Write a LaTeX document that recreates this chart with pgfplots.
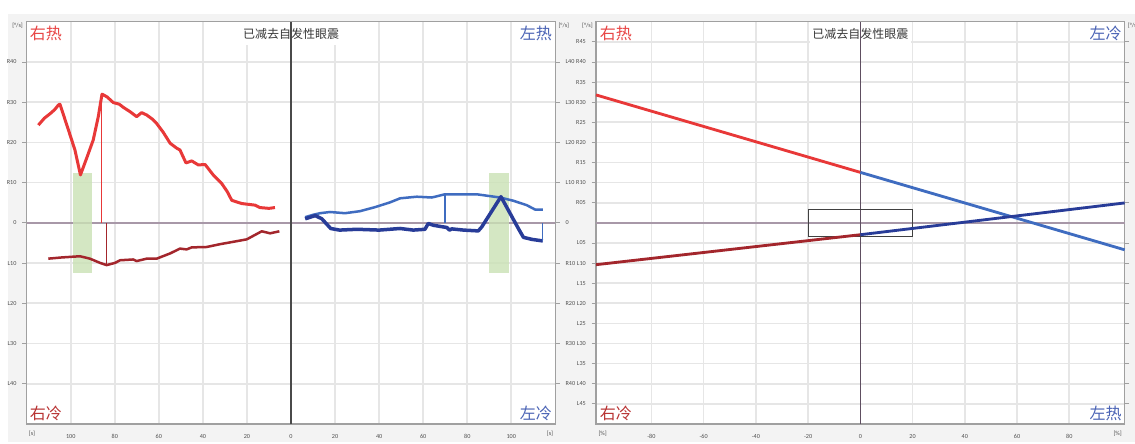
\documentclass[border=0pt]{standalone}
\usepackage{pgfplots}
\pgfplotsset{compat=1.18}
\usepackage{fontspec}
\setmainfont{Carlito}
\newfontfamily\cjk{Noto Sans CJK SC}
\definecolor{bggray}{HTML}{F3F3F3}
\definecolor{gridc}{HTML}{E6E6E6}
\definecolor{axc}{HTML}{A0A0A0}
\definecolor{tickc}{HTML}{505050}
\definecolor{zeroh}{HTML}{A898A8}
\definecolor{zerov}{HTML}{4A4A4A}
\definecolor{zerovb}{HTML}{5E4E60}
\definecolor{cred}{HTML}{E83838}
\definecolor{cdred}{HTML}{A3262C}
\definecolor{cblue}{HTML}{3F6CC0}
\definecolor{cdblue}{HTML}{283C98}
\definecolor{cgreen}{HTML}{CAE2B5}
\definecolor{lblred}{HTML}{E84545}
\definecolor{lbldred}{HTML}{B83232}
\definecolor{lblblue}{HTML}{4A63B5}
\definecolor{titlec}{HTML}{383838}
\tikzset{
  cornerfont/.style={font=\cjk\fontsize{9.6}{10}\selectfont},
  titlefont/.style={font=\cjk\fontsize{7.2}{8}\selectfont, text=titlec, fill=white, inner xsep=1.5pt, inner ysep=3.5pt},
  unitfont/.style={font=\fontsize{3.7}{4.4}\selectfont, text=tickc},
}
\pgfplotsset{
  panel/.style={
    anchor=south west, scale only axis,
    width=317.2pt, height=241.38pt,
    ymin=-50, ymax=50,
    axis background/.style={fill=white},
    grid=major,
    major grid style={draw=gridc, line width=1.0pt},
    axis line style={draw=axc, line width=0.7pt},
    xtick style={draw=none},
    ytick style={draw=axc, line width=0.5pt},
    tick align=outside, major tick length=2.6pt,
    ytick pos=left,
    tick label style={font=\fontsize{3.7}{4.4}\selectfont, text=tickc},
    xticklabel style={yshift=-0.3pt},
    clip=false,
  },
  labelaxis/.style={
    anchor=south west, scale only axis,
    width=317.2pt, height=241.38pt, ymin=-50, ymax=50,
    axis x line=none, axis y line*=right,
    axis line style={draw=none},
    ytick style={draw=axc, line width=0.5pt},
    tick align=outside, major tick length=2.6pt,
    tick label style={font=\fontsize{3.7}{4.4}\selectfont, text=tickc},
  },
}
\begin{document}
\begin{tikzpicture}
\fill[white] (0,0) rectangle (681pt,265.8pt);
\fill[bggray] (4.8pt,0.6pt) rectangle (681pt,257.4pt);

% ---------------- left panel ----------------
\begin{axis}[panel, at={(16.02pt,11.4pt)},
  xmin=-120, xmax=120,
  xtick={-100,-80,-60,-40,-20,0,20,40,60,80,100},
  xticklabels={100,80,60,40,20,0,20,40,60,80,100},
  ytick={-40,-30,-20,-10,0,10,20,30,40},
  yticklabels={L40,L30,L20,L10,0,R10,R20,R30,R40}]
\node[titlefont, yshift=-7.1pt] at (axis cs:0,50) {已减去自发性眼震};
\addplot[draw=zeroh, line width=1.2pt] coordinates {(-120,0) (120,0)};
\addplot[draw=zerov, line width=0.8pt] coordinates {(0,-50) (0,50)};
\addplot[draw=none, fill=cgreen, fill opacity=0.8] coordinates {(-99.1,-12.4) (-90.5,-12.4) (-90.5,12.4) (-99.1,12.4)} --cycle;
\addplot[draw=none, fill=cgreen, fill opacity=0.8] coordinates {(90,-12.4) (99,-12.4) (99,12.4) (90,12.4)} --cycle;
% right ear warm (red)
\addplot[cred, line width=1.8pt, line join=round] coordinates {
(-114.7,24.3) (-112,26) (-109,27.3) (-107.2,28.2) (-105.6,29.3) (-104.9,29.5)
(-101,23) (-98.1,18.1) (-95.6,11.9) (-92.5,16.5) (-89.8,20.6) (-87.5,26.4)
(-85.8,32.0) (-83.5,31.3) (-80.7,29.9) (-78,29.5) (-76.1,28.7) (-73,27.6)
(-70.1,26.4) (-67.8,27.4) (-65.5,26.8) (-63,25.8) (-61,24.7) (-58,22.5)
(-54.9,19.8) (-52,18.6) (-50.4,18.1) (-47.7,14.9) (-45.1,15.4) (-42.1,14.4)
(-39,14.5) (-35.3,11.9) (-31.5,9.8) (-29,7.8) (-26.9,5.6) (-22.4,4.8)
(-16.3,4.4) (-14.1,3.8) (-10,3.6) (-7.3,3.8)};
\addplot[cred, line width=0.7pt] coordinates {(-85.9,0) (-85.9,31.8)};
% right ear cold (dark red)
\addplot[cdred, line width=1.5pt, line join=round] coordinates {
(-110.2,-8.9) (-104.1,-8.6) (-95.8,-8.3) (-91.3,-8.9) (-86.7,-9.95) (-83.7,-10.5)
(-79.9,-9.95) (-77.6,-9.3) (-71.6,-9.1) (-70.1,-9.5) (-65.5,-8.9) (-61,-8.9)
(-54.9,-7.6) (-50.4,-6.4) (-47.4,-6.6) (-45.1,-6.1) (-38.3,-6.0) (-32.2,-5.3)
(-26.1,-4.7) (-20.1,-4.1) (-13.3,-2.1) (-9.5,-2.6) (-5.3,-2.1)};
\addplot[cdred, line width=0.7pt] coordinates {(-83.7,0) (-83.7,-10.5)};
% left ear warm (blue)
\addplot[cblue, line width=1.5pt, line join=round] coordinates {
(6.4,1.4) (10,2.0) (13.2,2.4) (17.7,2.7) (24.5,2.4) (31.3,2.9) (38.1,3.9)
(45,5.1) (49.5,6.1) (57.1,6.5) (63.9,6.3) (69.9,7.1) (76.7,7.1) (84.3,7.1)
(94.9,6.3) (100.9,5.5) (107,4.4) (110.8,3.3) (114.3,3.3)};
\addplot[cblue, line width=0.7pt] coordinates {(69.9,0) (69.9,7.1)};
% left ear cold (dark blue)
\addplot[cdblue, line width=2.1pt, line join=round] coordinates {
(6.4,1.0) (11,1.8) (14,1.0) (18,-1.4) (22,-1.8) (30,-1.6) (40,-1.8) (49.5,-1.4)
(55.5,-1.8) (60.8,-1.6) (62.3,-0.15) (64.6,-0.6) (70.7,-1.15) (71.9,-1.8)
(73,-1.5) (78.3,-1.8) (85,-2.0) (86.6,-1.0) (95.3,6.5) (103.2,-1.4)
(105.5,-3.6) (109.3,-4.1) (114.3,-4.5)};
\addplot[cblue, line width=0.7pt] coordinates {(114.3,-4.5) (114.3,0)};
\node[cornerfont, text=lblred, xshift=11.5pt, yshift=-7.1pt] at (rel axis cs:0,1) {右热};
\node[cornerfont, text=lblblue, xshift=-11.7pt, yshift=-7.1pt] at (rel axis cs:1,1) {左热};
\node[cornerfont, text=lbldred, xshift=11.5pt, yshift=6.6pt] at (rel axis cs:0,0) {右冷};
\node[cornerfont, text=lblblue, xshift=-11.7pt, yshift=6.6pt] at (rel axis cs:1,0) {左冷};
\node[unitfont, xshift=-5.5pt, yshift=-2.6pt] at (rel axis cs:0,1) {[°/s]};
\node[unitfont, xshift=5.1pt, yshift=-2.6pt] at (rel axis cs:1,1) {[°/s]};
\node[unitfont, xshift=3.2pt, yshift=-5.6pt] at (rel axis cs:0,0) {[s]};
\node[unitfont, xshift=-3.2pt, yshift=-5.6pt] at (rel axis cs:1,0) {[s]};
\end{axis}
\begin{axis}[labelaxis, at={(16.02pt,11.4pt)},
  xmin=-120, xmax=120,
  ytick={-40,-30,-20,-10,0,10,20,30,40},
  yticklabels={R40,R30,R20,R10,0,L10,L20,L30,L40}]
\addplot[draw=none] coordinates {(0,0)};
\end{axis}

% ---------------- right panel ----------------
\begin{axis}[panel, at={(357.6pt,11.4pt)},
  xmin=-101.2, xmax=101.2,
  xtick={-80,-60,-40,-20,0,20,40,60,80},
  xticklabels={-80,-60,-40,-20,0,20,40,60,80},
  ytick={-45,-40,-35,-30,-25,-20,-15,-10,-5,5,10,15,20,25,30,35,40,45},
  yticklabels={L45,L40,L35,L30,L25,L20,L15,L10,L05,R05,R10,R15,R20,R25,R30,R35,R40,R45}]
\node[titlefont, yshift=-7.1pt] at (axis cs:0,50) {已减去自发性眼震};
\addplot[draw=zeroh, line width=1.2pt] coordinates {(-101.2,0) (101.2,0)};
\addplot[draw=zerovb, line width=0.8pt] coordinates {(0,-50) (0,50)};
\addplot[draw=black!75, line width=0.5pt] coordinates {(-20,-3.4) (20,-3.4) (20,3.3) (-20,3.3) (-20,-3.4)};
\addplot[cred, line width=1.7pt] coordinates {(-101.2,31.8) (0,12.55)};
\addplot[cblue, line width=1.7pt] coordinates {(0,12.55) (101.2,-6.7)};
\addplot[cdred, line width=1.7pt] coordinates {(-101.2,-10.4) (0,-2.95)};
\addplot[cdblue, line width=1.7pt] coordinates {(0,-2.95) (101.2,4.95)};
\node[cornerfont, text=lblred, xshift=11.9pt, yshift=-7.1pt] at (rel axis cs:0,1) {右热};
\node[cornerfont, text=lblblue, xshift=-11.5pt, yshift=-7.1pt] at (rel axis cs:1,1) {左冷};
\node[cornerfont, text=lbldred, xshift=11.9pt, yshift=6.6pt] at (rel axis cs:0,0) {右冷};
\node[cornerfont, text=lblblue, xshift=-11.5pt, yshift=6.6pt] at (rel axis cs:1,0) {左热};
\node[unitfont, xshift=-5.1pt, yshift=-2.6pt] at (rel axis cs:0,1) {[°/s]};
\node[unitfont, xshift=5.1pt, yshift=-2.6pt] at (rel axis cs:1,1) {[°/s]};
\node[unitfont, xshift=4.0pt, yshift=-5.6pt] at (rel axis cs:0,0) {[\%]};
\node[unitfont, xshift=-4.2pt, yshift=-5.6pt] at (rel axis cs:1,0) {[\%]};
\end{axis}
\begin{axis}[labelaxis, at={(357.6pt,11.4pt)},
  xmin=-101.2, xmax=101.2,
  ytick={-45,-40,-35,-30,-25,-20,-15,-10,-5,5,10,15,20,25,30,35,40,45},
  yticklabels={L45,L40,L35,L30,L25,L20,L15,L10,L05,R05,R10,R15,R20,R25,R30,R35,R40,R45}]
\addplot[draw=none] coordinates {(0,0)};
\end{axis}
\pgfresetboundingbox
\path[use as bounding box] (0,0) rectangle (681pt,265.8pt);
\end{tikzpicture}
\end{document}
